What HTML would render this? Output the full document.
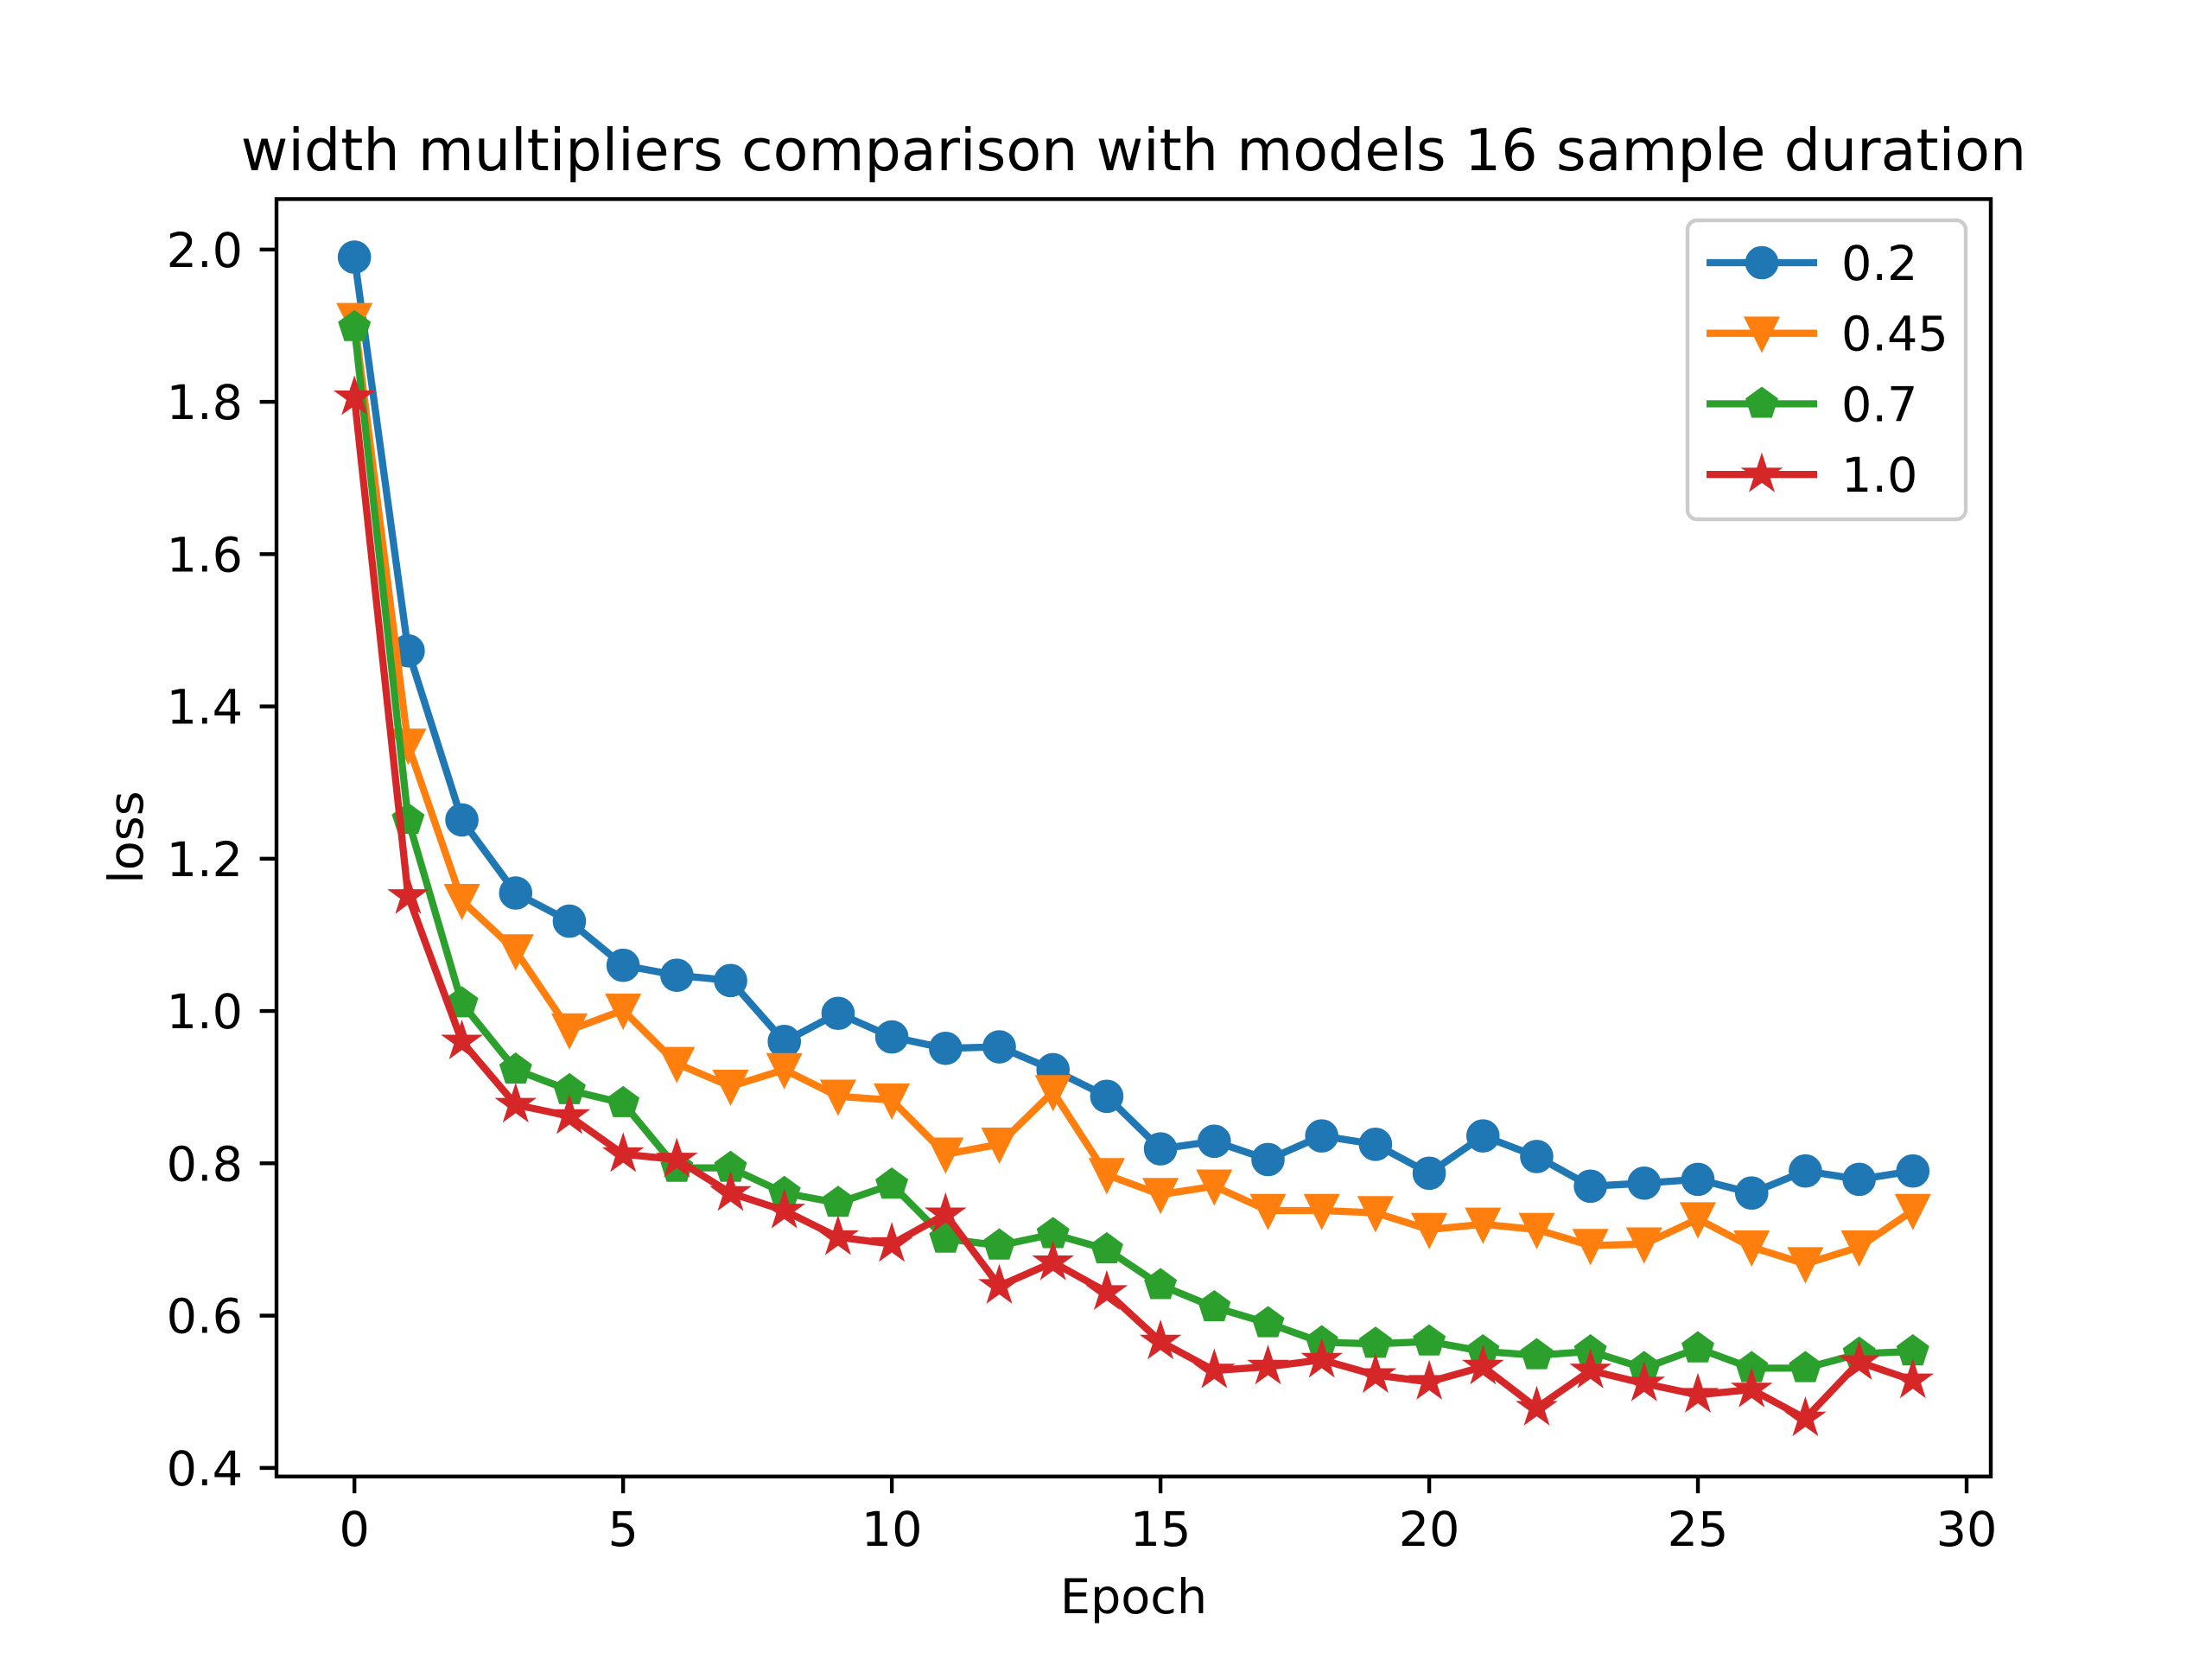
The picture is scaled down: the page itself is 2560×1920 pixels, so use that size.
<!DOCTYPE html>
<html><head><meta charset="utf-8"><style>html,body{margin:0;padding:0;background:#fff}svg{display:block}text{font-family:"DejaVu Sans","Liberation Sans",sans-serif;fill:#000}</style></head>
<body>
<svg id="chart" width="2560" height="1920" viewBox="0 0 2560 1920" xmlns="http://www.w3.org/2000/svg">
<rect width="2560" height="1920" fill="#fff"/>
<text x="1312" y="197" font-size="66.7" text-anchor="middle">width multipliers comparison with models 16 sample duration</text>
<g id="plot"></g>
<rect x="320" y="230.4" width="1984" height="1478.4" fill="none" stroke="#000" stroke-width="4.4"/>
<g id="ticks"></g>
<text x="1312" y="1867" font-size="55.6" text-anchor="middle">Epoch</text>
<text x="0" y="0" font-size="55.6" text-anchor="middle" transform="translate(165,969) rotate(-90)">loss</text>
<g id="legend"></g>
</svg>
<script>
const epochs = [0,1,2,3,4,5,6,7,8,9,10,11,12,13,14,15,16,17,18,19,20,21,22,23,24,25,26,27,28,29];
const seriesNames = ["0.2","0.45","0.7","1.0"];
const loss02 = [1.99,1.473,1.251,1.155,1.118,1.060,1.047,1.040,0.960,0.997,0.966,0.951,0.953,0.923,0.888,0.819,0.829,0.805,0.836,0.825,0.787,0.836,0.809,0.770,0.774,0.779,0.761,0.790,0.779,0.790];
const loss045 = [1.908,1.349,1.145,1.079,0.975,1.001,0.931,0.901,0.923,0.888,0.883,0.812,0.825,0.894,0.785,0.759,0.770,0.738,0.738,0.735,0.713,0.720,0.713,0.692,0.694,0.727,0.690,0.668,0.690,0.738];
const loss07 = [1.898,1.251,1.010,0.923,0.896,0.879,0.794,0.794,0.761,0.748,0.772,0.701,0.692,0.707,0.687,0.640,0.611,0.590,0.565,0.563,0.566,0.553,0.548,0.553,0.531,0.557,0.531,0.531,0.550,0.553];
const loss10 = [1.806,1.151,0.960,0.877,0.862,0.812,0.805,0.761,0.738,0.703,0.694,0.733,0.639,0.670,0.631,0.566,0.528,0.533,0.542,0.522,0.513,0.533,0.479,0.528,0.511,0.496,0.503,0.465,0.539,0.515];
const xTicks = [0,5,10,15,20,25,30];
const yTicks = [0.4,0.6,0.8,1.0,1.2,1.4,1.6,1.8,2.0];
const yTickLabels = ["0.4","0.6","0.8","1.0","1.2","1.4","1.6","1.8","2.0"];

const NS="http://www.w3.org/2000/svg";
const L=320,R=2304,T=230.4,B=1708.8;
const allY=loss02.concat(loss045,loss07,loss10);
const xmin=Math.min(...epochs),xmax=Math.max(...epochs),xr=xmax-xmin;
const ymin=Math.min(...allY),ymax=Math.max(...allY),yr=ymax-ymin;
const x0=xmin-0.05*xr,x1=xmax+0.05*xr,y0=ymin-0.05*yr,y1=ymax+0.05*yr;
function sx(v){return L+(v-x0)/(x1-x0)*(R-L);}
function sy(v){return B-(v-y0)/(y1-y0)*(B-T);}
function mk(tag,attrs,parent){const e=document.createElementNS(NS,tag);for(const k in attrs)e.setAttribute(k,attrs[k]);parent.appendChild(e);return e;}
const MS=33;
function markerPath(type,cx,cy){
  const r=MS/2;let pts=[];
  if(type==='v'){pts=[[cx,cy+r],[cx-r,cy-r],[cx+r,cy-r]];}
  else if(type==='p'){for(let i=0;i<5;i++){const a=-Math.PI/2+i*2*Math.PI/5;pts.push([cx+r*Math.cos(a),cy+r*Math.sin(a)]);}}
  else if(type==='*'){for(let i=0;i<10;i++){const a=-Math.PI/2+i*Math.PI/5;const rr=i%2?r*0.381966:r;pts.push([cx+rr*Math.cos(a),cy+rr*Math.sin(a)]);}}
  return 'M'+pts.map(p=>p[0].toFixed(1)+','+p[1].toFixed(1)).join('L')+'Z';
}
function drawMarker(type,cx,cy,color,parent){
  let el;
  if(type==='o'){el=mk('circle',{cx:cx,cy:cy,r:MS/2,fill:color,stroke:color,'stroke-width':5.6},parent);}
  else{el=mk('path',{d:markerPath(type,cx,cy),fill:color,stroke:color,'stroke-width':5.6,'stroke-linejoin':'miter'},parent);}
  return el;
}
const series=[loss02,loss045,loss07,loss10];
const colors=["#1f77b4","#ff7f0e","#2ca02c","#d62728"];
const markers=['o','v','p','*'];
const plot=document.getElementById('plot');
series.forEach((vals,si)=>{
  const g=mk('g',{},plot);
  
  
  const d=vals.map((v,i)=>(i?'L':'M')+sx(epochs[i]).toFixed(1)+','+sy(v).toFixed(1)).join('');
  const line=mk('path',{d:d,fill:'none',stroke:colors[si],'stroke-width':8.3,'stroke-linejoin':'round','stroke-linecap':'square'},g);
  
  
  vals.forEach((v,i)=>{
    const m=drawMarker(markers[si],sx(epochs[i]),sy(v),colors[si],g);
    
    
  });
});
const tk=document.getElementById('ticks');
xTicks.forEach(t=>{
  const x=sx(t);
  const l=mk('line',{x1:x,x2:x,y1:B,y2:B+19.4,stroke:'#000','stroke-width':4.4},tk);
  
  
  const tx=mk('text',{x:x,y:B+80,'font-size':55.6,'text-anchor':'middle'},tk);
  tx.textContent=String(t);
  
  
});
yTicks.forEach((t,i)=>{
  const y=sy(t);
  const l=mk('line',{x1:L-19.4,x2:L,y1:y,y2:y,stroke:'#000','stroke-width':4.4},tk);
  
  
  const tx=mk('text',{x:L-39,y:y+20,'font-size':55.6,'text-anchor':'end'},tk);
  tx.textContent=yTickLabels[i];
  
  
});
const lg=document.getElementById('legend');
const box=mk('rect',{x:1953,y:255,width:322,height:346,rx:11,fill:'#fff','fill-opacity':0.8,stroke:'#ccc','stroke-width':4.4},lg);


seriesNames.forEach((n,i)=>{
  const y=304+i*81.7;
  const g=mk('g',{},lg);
  
  
  mk('line',{x1:1975,x2:2103,y1:y,y2:y,stroke:colors[i],'stroke-width':8.3},g);
  drawMarker(markers[i],2039,y,colors[i],g);
  const tx=mk('text',{x:2131,y:y+20,'font-size':55.6},g);
  tx.textContent=n;
});
</script>
</body></html>
